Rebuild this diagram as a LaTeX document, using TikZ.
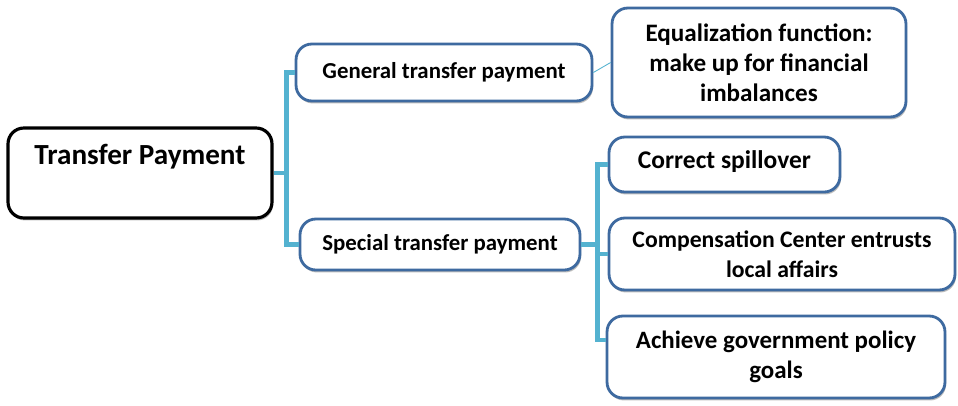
\documentclass[tikz,border=0pt]{standalone}
\usepackage{fontspec}
\setmainfont{Carlito}
\usetikzlibrary{shadows}
\definecolor{boxblue}{RGB}{62,106,160}
\definecolor{linkblue}{RGB}{84,178,208}
\newcommand{\boxfont}[1]{\bfseries\fontsize{#1}{17}\selectfont}
\tikzset{
	box/.style={draw=boxblue,line width=1.6pt,rounded corners=9pt,fill=white,align=center,
		font=\boxfont{13},
		drop shadow={shadow xshift=0.6pt,shadow yshift=-1.4pt,fill=black!45,opacity=0.6}},
	rootbox/.style={box,draw=black,line width=1.8pt,font=\boxfont{16.6}},
	branch/.style={draw=linkblue,line width=2.8pt},
	twig/.style={draw=linkblue,line width=0.5pt},
}
\begin{document}
\begin{tikzpicture}[x=0.02cm,y=-0.02cm]
	\useasboundingbox (0,0) rectangle (958,406);
	% root and first level
	\node[rootbox,minimum width=5.28cm,minimum height=1.8cm,text depth=0.75cm] (root) at (140,173) {Transfer Payment};
	\node[box,minimum width=5.92cm,minimum height=1.14cm] (gen) at (444,72.5) {General transfer payment};
	\node[box,minimum width=5.6cm,minimum height=1.02cm] (spec) at (440,244.5) {Special transfer payment};
	% leaves
	\node[box,font=\boxfont{14.3},minimum width=5.88cm,minimum height=2.18cm] (equal) at (759,62.5) {Equalization function:\\make up for financial\\imbalances};
	\node[box,font=\boxfont{14.5},minimum width=4.62cm,minimum height=1.1cm,text depth=0.2cm] (spill) at (724.5,164.5) {Correct spillover};
	\node[box,font=\boxfont{13.5},minimum width=6.92cm,minimum height=1.44cm] (comp) at (782,254) {Compensation Center entrusts\\local affairs};
	\node[box,font=\boxfont{14.2},minimum width=6.76cm,minimum height=1.64cm] (goals) at (776,357) {Achieve government policy\\goals};
	% connectors
	\draw[branch] (root.east) -- ++(13,0) coordinate (jA) |- (gen.west);
	\draw[branch] (jA) |- (spec.west);
	\draw[branch] (spec.east) -- ++(16,0) coordinate (jB) |- (spill.west);
	\draw[branch] (jB) |- (comp.west);
	\draw[branch] (jB) |- ([yshift=0.34cm]goals.west);
	\draw[twig] (gen.east) -- (equal.west);
\end{tikzpicture}
\end{document}
